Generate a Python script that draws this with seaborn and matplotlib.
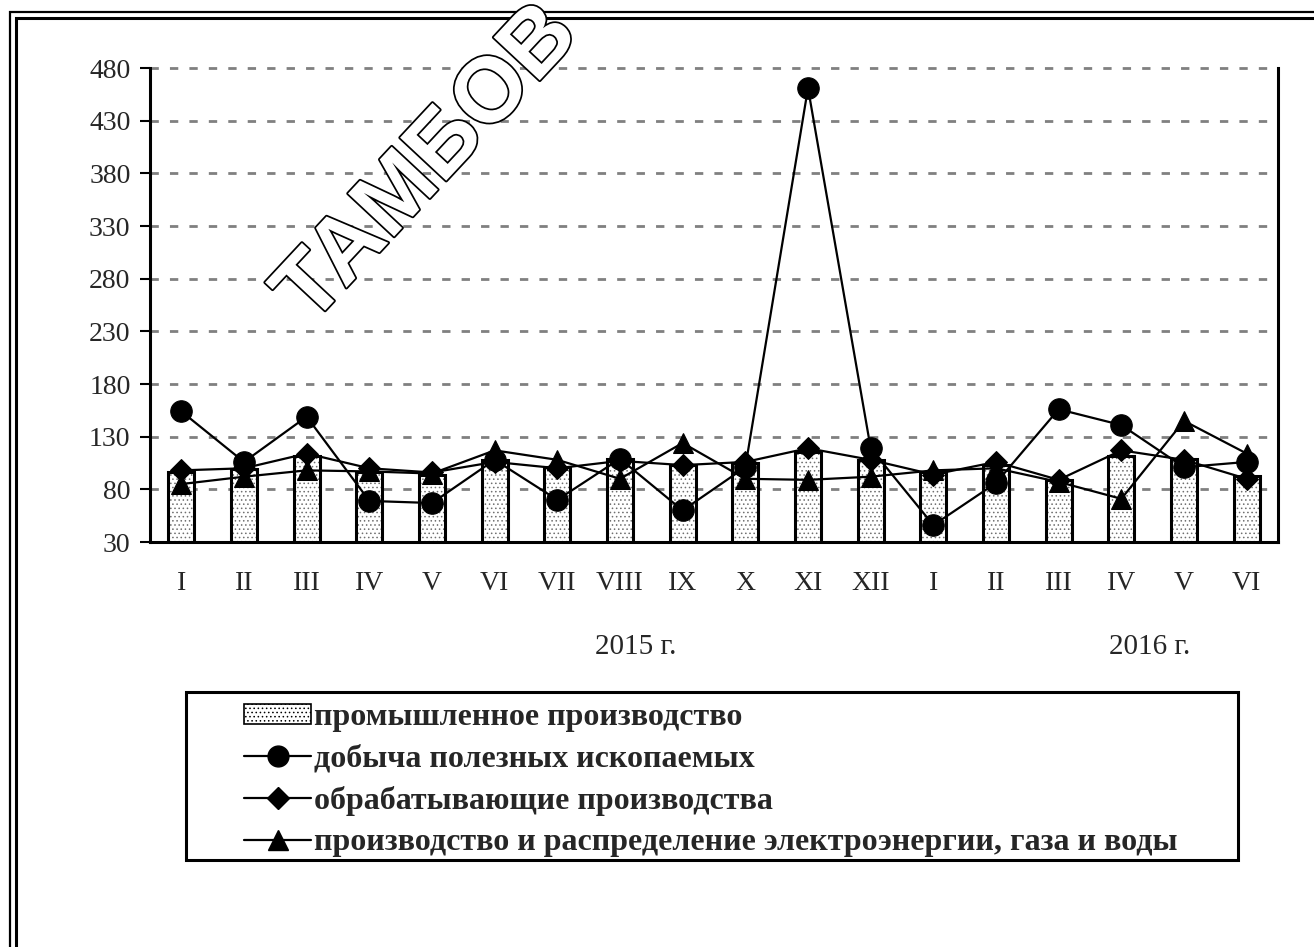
import numpy as np
import pandas as pd
import matplotlib
matplotlib.use("Agg")
import matplotlib.pyplot as plt
import seaborn as sns
from matplotlib.patches import Rectangle, Patch
from matplotlib.lines import Line2D
import matplotlib.patheffects as pe

# ---- data ----
months = ["I", "II", "III", "IV", "V", "VI", "VII", "VIII", "IX", "X", "XI", "XII",
          "I", "II", "III", "IV", "V", "VI"]
industry = [96, 99, 112, 96, 94, 108, 101, 109, 103, 105, 115, 108, 96, 103, 89, 112, 109, 93]
mining = [154, 106, 149, 69, 67, 108, 70, 109, 60, 101, 461, 119, 46, 86, 156, 141, 101, 106]
manufacturing = [98, 100, 114, 100, 96, 106, 100, 107, 103, 106, 119, 108, 94, 106, 89, 117, 108, 90]
energy = [85, 92, 98, 97, 95, 117, 108, 90, 124, 90, 89, 92, 98, 100, 87, 71, 145, 114]
years = ["2015 г.", "2016 г."]
labels = ["промышленное производство", "добыча полезных ископаемых",
          "обрабатывающие производства",
          "производство и распределение электроэнергии, газа и воды"]
yticks = list(range(30, 481, 50))

sns.set_style("white")
plt.rcParams["font.family"] = ["Liberation Serif", "DejaVu Serif"]
plt.rcParams["hatch.linewidth"] = 0.6

W, H = 1314, 947
FS = 20
fig = plt.figure(figsize=(W / 100, H / 100), dpi=100)
ax = fig.add_axes([150 / W, 1 - 542 / H, (1278 - 150) / W, (542 - 68) / H])

df = pd.DataFrame({"idx": np.arange(len(months)), "industry": industry,
                   "mining": mining, "manufacturing": manufacturing, "energy": energy})

# bars: hatched fill then black outline
sns.barplot(data=df, x="idx", y="industry", color="white", edgecolor="#707070",
            linewidth=0, width=0.42, hatch="....", ax=ax, zorder=1)
sns.barplot(data=df, x="idx", y="industry", fill=False, color="black",
            linewidth=2.2, width=0.42, ax=ax, zorder=1.5)

line_kw = dict(color="black", linewidth=1.6, markeredgecolor="black", ax=ax, zorder=3)
sns.lineplot(data=df, x="idx", y="manufacturing", marker="D", markersize=11, **line_kw)
sns.lineplot(data=df, x="idx", y="energy", marker="^", markersize=15, **line_kw)
sns.lineplot(data=df, x="idx", y="mining", marker="o", markersize=15.5, **line_kw)

ax.set_xlim(-0.5, len(months) - 0.5)
ax.set_ylim(30, 480)
ax.set_yticks(yticks)
ax.set_yticklabels([str(v) for v in yticks], fontsize=FS)
ax.set_xticks(np.arange(-0.5, len(months), 1.0))
ax.set_xticklabels([])
ax.set_xticks(np.arange(len(months)), minor=True)
ax.set_xticklabels(months, minor=True, fontsize=FS)
ax.tick_params(axis="x", which="major", direction="out", length=7, width=1.5, color="black")
ax.tick_params(axis="x", which="minor", length=0, pad=21)
ax.tick_params(axis="y", direction="out", length=7, width=1.5, color="black", pad=7, left=True)
ax.set_xlabel("")
ax.set_ylabel("")

for y in yticks[1:]:
    ax.axhline(y, color="#808080", linewidth=2, dashes=(3, 4), zorder=0.5, clip_on=False)
for s in ["left", "bottom", "right"]:
    ax.spines[s].set_color("black")
    ax.spines[s].set_linewidth(2.2)
ax.spines["top"].set_visible(False)

# year labels
fig.text(636 / W, 1 - 647 / H, years[0], ha="center", va="center", fontsize=21)
fig.text(1150 / W, 1 - 647 / H, years[1], ha="center", va="center", fontsize=21)

# legend box + legend
fig.add_artist(Rectangle((186 / W, 1 - 860 / H), (1238 - 186) / W, (860 - 692) / H,
                         transform=fig.transFigure, fill=False, edgecolor="black",
                         linewidth=2.2))
handles = [
    Patch(facecolor="white", edgecolor="black", hatch="....", linewidth=1.2),
    Line2D([], [], color="black", lw=1.6, marker="o", markersize=15),
    Line2D([], [], color="black", lw=1.6, marker="D", markersize=11),
    Line2D([], [], color="black", lw=1.6, marker="^", markersize=15),
]
leg = fig.legend(handles, labels, loc="upper left", bbox_to_anchor=(244 / W, 1 - 703 / H),
                 frameon=False, prop={"size": 23, "weight": "bold"},
                 handlelength=2.1, handleheight=0.6, handletextpad=0.08,
                 labelspacing=0.39, borderaxespad=0, borderpad=0)

# page frame (double border)
fig.add_artist(Rectangle((10 / W, -0.1), 1.2, 1 - 12 / H + 0.1, transform=fig.transFigure,
                         fill=False, edgecolor="black", linewidth=1.6))
fig.add_artist(Rectangle((16 / W, -0.1), 1.2, 1 - 18 / H + 0.1, transform=fig.transFigure,
                         fill=False, edgecolor="black", linewidth=2.2))

# watermark
fig.text(428 / W, 1 - 165 / H, "ТАМБОВ", rotation=47, ha="center", va="center",
         fontsize=66, fontweight="bold", family=["Liberation Sans", "DejaVu Sans"],
         color="white", zorder=10,
         path_effects=[pe.withStroke(linewidth=2.5, foreground="black")])

fig.savefig("out.png", dpi=100)
